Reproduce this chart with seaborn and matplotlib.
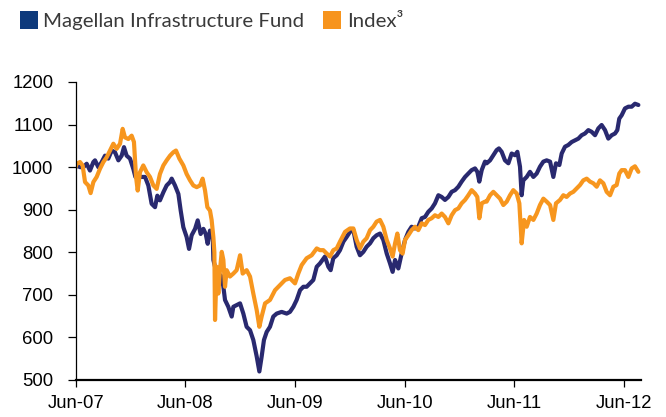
import numpy as np
import pandas as pd
import matplotlib
matplotlib.use("Agg")
import matplotlib.pyplot as plt
import seaborn as sns
from matplotlib.patches import Rectangle

# ---------------- data (x in decimal years, 2007.5 = end of June 2007) ----------------
series_names = ["Magellan Infrastructure Fund", "Index³"]

fund_t = [2007.500, 2007.510, 2007.540, 2007.571, 2007.601, 2007.631, 2007.662, 2007.677, 2007.707, 2007.738,
          2007.768, 2007.798, 2007.829, 2007.859, 2007.890, 2007.920, 2007.941, 2007.965, 2007.996, 2008.026,
          2008.045, 2008.072, 2008.102, 2008.133, 2008.163, 2008.193, 2008.224, 2008.245, 2008.269, 2008.300,
          2008.330, 2008.361, 2008.376, 2008.406, 2008.437, 2008.458, 2008.482, 2008.512, 2008.534, 2008.558,
          2008.589, 2008.613, 2008.640, 2008.665, 2008.686, 2008.704, 2008.725, 2008.750, 2008.756, 2008.771,
          2008.801, 2008.832, 2008.847, 2008.862, 2008.892, 2008.923, 2008.938, 2008.968, 2008.999, 2009.029,
          2009.059, 2009.090, 2009.120, 2009.151, 2009.175, 2009.196, 2009.217, 2009.242, 2009.272, 2009.302,
          2009.333, 2009.378, 2009.424, 2009.454, 2009.485, 2009.515, 2009.546, 2009.576, 2009.606, 2009.637,
          2009.667, 2009.698, 2009.728, 2009.773, 2009.804, 2009.825, 2009.849, 2009.880, 2009.910, 2009.941,
          2009.971, 2010.001, 2010.032, 2010.062, 2010.092, 2010.123, 2010.153, 2010.184, 2010.214, 2010.244,
          2010.275, 2010.305, 2010.336, 2010.366, 2010.390, 2010.412, 2010.442, 2010.472, 2010.503, 2010.533,
          2010.563, 2010.594, 2010.624, 2010.655, 2010.685, 2010.715, 2010.746, 2010.776, 2010.807, 2010.837,
          2010.867, 2010.898, 2010.928, 2010.959, 2010.989, 2011.019, 2011.050, 2011.080, 2011.110, 2011.141,
          2011.162, 2011.180, 2011.202, 2011.232, 2011.247, 2011.278, 2011.308, 2011.338, 2011.359, 2011.384,
          2011.414, 2011.445, 2011.475, 2011.505, 2011.527, 2011.551, 2011.566, 2011.581, 2011.612, 2011.642,
          2011.673, 2011.703, 2011.733, 2011.764, 2011.794, 2011.825, 2011.855, 2011.879, 2011.910, 2011.931,
          2011.961, 2011.991, 2012.022, 2012.052, 2012.083, 2012.113, 2012.143, 2012.174, 2012.204, 2012.235,
          2012.265, 2012.295, 2012.326, 2012.356, 2012.387, 2012.417, 2012.438, 2012.456, 2012.478, 2012.508,
          2012.539, 2012.569, 2012.599, 2012.630]
fund_v = [1000, 1004, 1000, 1000, 1008, 992, 1012, 1016, 1000, 1012,
          1027, 1020, 1039, 1035, 1016, 1027, 1047, 1027, 1020, 996,
          977, 977, 977, 977, 957, 914, 906, 933, 922, 941,
          957, 965, 973, 957, 937, 898, 859, 836, 808, 840,
          855, 875, 843, 855, 843, 820, 851, 840, 782, 766,
          750, 743, 719, 688, 672, 649, 672, 676, 680, 656,
          625, 617, 594, 555, 520, 555, 594, 613, 625, 649,
          656, 660, 656, 660, 672, 688, 711, 719, 719, 727,
          735, 766, 774, 790, 766, 758, 786, 793, 805, 825,
          836, 848, 852, 813, 793, 801, 813, 821, 833, 840,
          844, 829, 797, 774, 754, 782, 762, 797, 829, 848,
          860, 856, 860, 880, 883, 895, 903, 915, 934, 930,
          923, 930, 942, 946, 954, 966, 977, 985, 993, 997,
          989, 966, 993, 1013, 1009, 1016, 1028, 1040, 1044, 1036,
          1016, 1009, 1032, 1028, 1036, 1001, 934, 969, 977, 989,
          977, 985, 1001, 1013, 1016, 1013, 977, 1009, 1005, 1032,
          1048, 1052, 1059, 1063, 1067, 1075, 1079, 1087, 1083, 1075,
          1091, 1099, 1087, 1067, 1075, 1079, 1087, 1114, 1122, 1138,
          1142, 1142, 1149, 1146]

index_t = [2007.500, 2007.510, 2007.540, 2007.564, 2007.586, 2007.616, 2007.637, 2007.662, 2007.692, 2007.722,
           2007.753, 2007.783, 2007.814, 2007.844, 2007.874, 2007.905, 2007.929, 2007.950, 2007.981, 2008.011,
           2008.032, 2008.051, 2008.066, 2008.087, 2008.117, 2008.148, 2008.178, 2008.209, 2008.239, 2008.269,
           2008.300, 2008.330, 2008.361, 2008.391, 2008.415, 2008.446, 2008.482, 2008.512, 2008.543, 2008.573,
           2008.604, 2008.634, 2008.658, 2008.680, 2008.701, 2008.725, 2008.740, 2008.756, 2008.765, 2008.771,
           2008.786, 2008.801, 2008.816, 2008.832, 2008.847, 2008.862, 2008.877, 2008.907, 2008.938, 2008.968,
           2008.999, 2009.023, 2009.059, 2009.090, 2009.120, 2009.151, 2009.175, 2009.196, 2009.227, 2009.272,
           2009.318, 2009.363, 2009.409, 2009.454, 2009.500, 2009.530, 2009.561, 2009.606, 2009.652, 2009.698,
           2009.728, 2009.758, 2009.789, 2009.819, 2009.849, 2009.880, 2009.910, 2009.956, 2010.001, 2010.032,
           2010.062, 2010.092, 2010.123, 2010.153, 2010.184, 2010.214, 2010.244, 2010.275, 2010.305, 2010.336,
           2010.366, 2010.390, 2010.412, 2010.433, 2010.457, 2010.481, 2010.503, 2010.533, 2010.563, 2010.594,
           2010.624, 2010.655, 2010.685, 2010.715, 2010.746, 2010.776, 2010.807, 2010.837, 2010.867, 2010.898,
           2010.928, 2010.959, 2010.989, 2011.019, 2011.050, 2011.080, 2011.110, 2011.141, 2011.162, 2011.180,
           2011.202, 2011.232, 2011.247, 2011.278, 2011.308, 2011.338, 2011.369, 2011.399, 2011.430, 2011.460,
           2011.490, 2011.521, 2011.545, 2011.566, 2011.588, 2011.612, 2011.642, 2011.673, 2011.703, 2011.733,
           2011.764, 2011.794, 2011.825, 2011.855, 2011.879, 2011.916, 2011.946, 2011.976, 2012.007, 2012.037,
           2012.068, 2012.098, 2012.128, 2012.159, 2012.189, 2012.220, 2012.250, 2012.280, 2012.311, 2012.341,
           2012.372, 2012.402, 2012.432, 2012.456, 2012.478, 2012.508, 2012.539, 2012.569, 2012.599, 2012.630]
index_v = [1000, 1008, 1012, 1004, 965, 957, 939, 965, 977, 996,
           1012, 1023, 1039, 1055, 1043, 1055, 1090, 1070, 1066, 1074,
           1059, 977, 945, 988, 1004, 988, 977, 957, 949, 984,
           1004, 1016, 1027, 1035, 1039, 1020, 1004, 984, 969, 957,
           953, 957, 973, 945, 906, 898, 876, 835, 800, 641,
           766, 703, 758, 801, 782, 719, 758, 743, 750, 758,
           793, 750, 758, 743, 703, 664, 625, 649, 680, 688,
           711, 723, 735, 739, 727, 750, 770, 786, 793, 809,
           805, 805, 797, 790, 805, 809, 825, 848, 856, 856,
           829, 809, 825, 833, 852, 860, 872, 876, 860, 829,
           809, 790, 821, 844, 805, 797, 829, 840, 852, 860,
           852, 868, 864, 876, 880, 887, 883, 891, 883, 868,
           887, 899, 903, 915, 923, 934, 946, 938, 930, 880,
           915, 919, 919, 934, 942, 934, 926, 911, 919, 934,
           946, 938, 915, 821, 876, 860, 883, 876, 891, 911,
           926, 919, 911, 876, 915, 923, 934, 930, 938, 942,
           950, 958, 969, 973, 966, 962, 954, 969, 962, 942,
           934, 954, 958, 985, 993, 993, 977, 997, 1002, 989]

x_tick_pos = [2007.5, 2008.5, 2009.5, 2010.5, 2011.5, 2012.5]
x_tick_labels = ["Jun-07", "Jun-08", "Jun-09", "Jun-10", "Jun-11", "Jun-12"]
y_ticks = [500, 600, 700, 800, 900, 1000, 1100, 1200]

navy = "#29296f"
orange = "#f7961e"
legend_navy = "#0e3a7c"
legend_orange = "#f7941d"

# ---------------- plot ----------------
sns.set_style("ticks")
plt.rcParams["font.family"] = ["Liberation Sans", "DejaVu Sans"]

df = pd.concat([
    pd.DataFrame({"t": fund_t, "v": fund_v, "series": series_names[0]}),
    pd.DataFrame({"t": index_t, "v": index_v, "series": series_names[1]}),
], ignore_index=True)

W, H = 666, 417
fig = plt.figure(figsize=(W / 100, H / 100), dpi=100)
ax = fig.add_axes([75.6 / W, 37 / H, (641 - 75.6) / W, 298 / H])

sns.lineplot(data=df, x="t", y="v", hue="series", hue_order=series_names,
             palette=[navy, orange], estimator=None, sort=True, legend=False,
             linewidth=3.0, ax=ax)

ax.set_xlim(2007.5, 2012.654)
ax.set_ylim(500, 1200)
ax.set_xticks(x_tick_pos)
ax.set_xticklabels(x_tick_labels)
ax.set_yticks(y_ticks)
ax.set_xlabel("")
ax.set_ylabel("")
sns.despine(ax=ax)
ax.spines["left"].set_linewidth(0.9)
ax.spines["bottom"].set_linewidth(1.6)
ax.spines["left"].set_color("black")
ax.spines["bottom"].set_color("black")
ax.tick_params(axis="y", length=6, width=0.9, pad=10, labelsize=13.3, colors="black")
ax.tick_params(axis="x", length=5, width=0.9, pad=5.5, labelsize=13.3, colors="black")
ax.grid(False)

# ---------------- legend (top-left, outside the axes) ----------------
def px(x, y):
    return x / W, 1 - y / H

sq = 18
fig.add_artist(Rectangle(px(20, 29), sq / W, sq / H, transform=fig.transFigure,
                         facecolor=legend_navy, edgecolor="none"))
fig.add_artist(Rectangle(px(323, 29), sq / W, sq / H, transform=fig.transFigure,
                         facecolor=legend_orange, edgecolor="none"))
leg_fam = ["Lato", "DejaVu Sans"]
t1 = fig.text(*px(43, 27.3), series_names[0], fontsize=15.5, family=leg_fam,
              color="#3a3a3a", ha="left", va="baseline")
t2 = fig.text(*px(347, 27.3), series_names[1], fontsize=15.5, family=leg_fam,
              color="#3a3a3a", ha="left", va="baseline")
fig.canvas.draw()
w = t1.get_window_extent().width
fs = 15.5 * 262 / w
t1.set_fontsize(fs)
t2.set_fontsize(fs)

fig.savefig("out.png", dpi=100)
